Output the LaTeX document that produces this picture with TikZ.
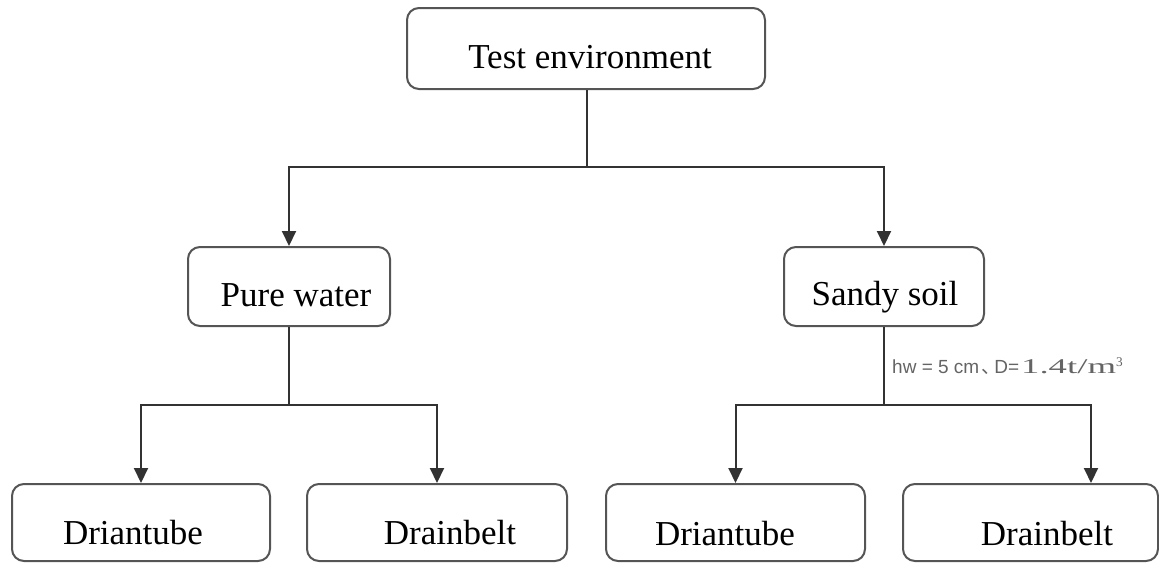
\documentclass[tikz,border=0pt]{standalone}
\usepackage{graphicx}
\usepackage{fontspec}
\setmainfont{Liberation Serif}
\setsansfont{Liberation Sans}
\newfontfamily\cjk{Noto Sans CJK SC}
\usetikzlibrary{arrows.meta}
\definecolor{boxgray}{RGB}{85,85,85}
\definecolor{linegray}{RGB}{50,50,50}
\definecolor{labgray}{RGB}{100,100,100}
\tikzset{
  boxnode/.style={draw=boxgray, line width=2pt, rounded corners=12pt, fill=white, inner sep=0pt},
  txt/.style={anchor=base, inner sep=0pt, font=\fontsize{35}{40}\selectfont},
  conn/.style={draw=linegray, line width=2pt},
  arr/.style={conn, -{Triangle[width=14pt,length=15pt]}}
}
\begin{document}
\begin{tikzpicture}[x=1pt,y=-1pt]
\useasboundingbox (0,0) rectangle (1159,563);
% boxes
\node[boxnode, minimum width=358pt, minimum height=81pt] (te) at (586,48.5) {};
\node[boxnode, minimum width=202pt, minimum height=79pt] (pw) at (289,286.5) {};
\node[boxnode, minimum width=200pt, minimum height=79pt] (ss) at (884,286.5) {};
\node[boxnode, minimum width=258pt, minimum height=77pt] (dt1) at (141,522.5) {};
\node[boxnode, minimum width=260pt, minimum height=77pt] (db1) at (437,522.5) {};
\node[boxnode, minimum width=259pt, minimum height=77pt] (dt2) at (735.5,522.5) {};
\node[boxnode, minimum width=255pt, minimum height=77pt] (db2) at (1030.5,522.5) {};
% texts
\node[txt] (tet) at (590,68) {Test environment};
\node[txt] (pwt) at (296,306) {Pure water};
\node[txt] (sst) at (885,305) {Sandy soil};
\node[txt] (dt1t) at (133,544) {Driantube};
\node[txt] (db1t) at (450,544) {Drainbelt};
\node[txt] (dt2t) at (725,545) {Driantube};
\node[txt] (db2t) at (1047,545) {Drainbelt};
% junctions
\coordinate (j0) at (587,167);
\coordinate (j1) at (289,405);
\coordinate (j2) at (884,405);
\coordinate (r2) at (1091,405);
% connectors
\draw[conn] (te.south -| j0) -- (j0);
\draw[arr] (j0) -| (pw.north);
\draw[arr] (j0) -| (ss.north);
\draw[conn] (pw.south) -- (j1);
\draw[arr] (j1) -| (dt1.north);
\draw[arr] (j1) -| (db1.north);
\draw[conn] (ss.south) -- (j2);
\draw[arr] (j2) -| (dt2.north);
\draw[arr] (j2) -| (db2.north -| r2);
% label
\node[anchor=base west, inner sep=0pt, text=labgray, font=\fontsize{19}{22}\selectfont] (lab) at (892,373)
  {\sffamily hw = 5 cm\hspace{2pt}{\cjk 、}\hspace{-6pt}D=\rmfamily\hspace{2pt}{\fontsize{21}{24}\selectfont\scalebox{1.75}[1]{1.4t/m}}\textsuperscript{3}};
\end{tikzpicture}
\end{document}
